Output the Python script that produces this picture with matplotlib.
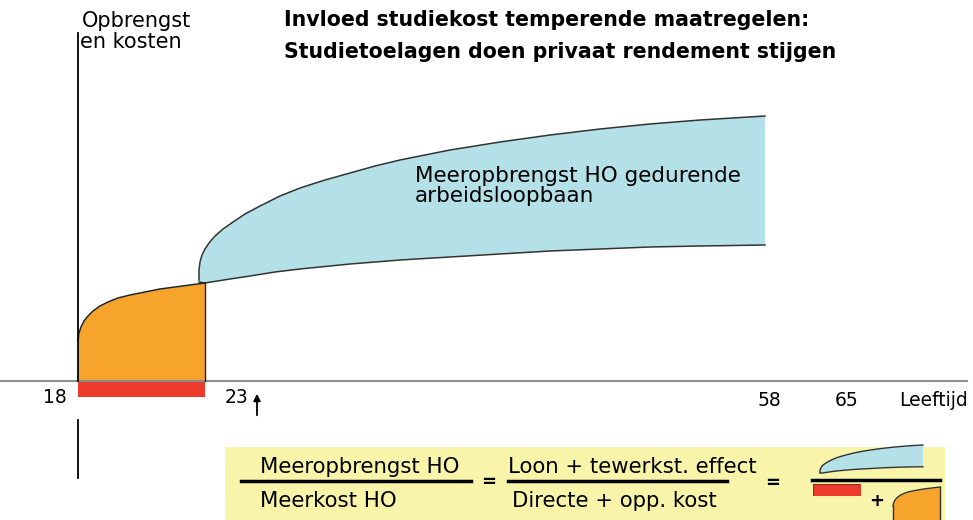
import numpy as np
import matplotlib
matplotlib.use('Agg')
import matplotlib.pyplot as plt
from matplotlib.patches import Rectangle

plt.rcParams['font.family'] = ['DejaVu Sans']

# schematic earnings profile, x = position along age axis, y = height above the age axis
study_x = [78, 79, 81, 84, 88, 93, 100, 108, 118, 130, 145, 160, 175, 190, 205]
study_y = [41, 48, 54, 60, 65, 70, 75, 79, 83, 86, 89, 92, 94, 96, 98]   # opportunity cost
direct_cost = -16                                                          # direct study cost

upper_x = [199, 199, 200, 202, 205, 209, 215, 223, 233, 245, 260, 280, 300, 325, 350, 375,
           400, 425, 450, 475, 500, 550, 600, 650, 700, 765]
upper_y = [101, 111, 119, 126, 132, 138, 145, 152, 159, 167, 175, 185, 193, 201, 208, 215,
           221, 226, 231, 235, 239, 246, 252, 257, 261, 265]
lower_x = [199, 205, 230, 250, 275, 300, 350, 400, 450, 500, 550, 600, 650, 700, 765]
lower_y = [99, 98, 102, 105, 109, 112, 117, 121, 124, 127, 130, 132, 134, 135, 136]

age_labels = ['18', '23', '58', '65', 'Leeftijd']

orange = '#f6a42b'
blue = '#b4e0e7'
red = '#ee3b2b'
yellow = '#f8f4aa'
edge = '#333333'

fig = plt.figure(figsize=(9.73, 5.2), dpi=100)
ax = fig.add_axes([0, 0, 1, 1])
ax.set_xlim(0, 973)
ax.set_ylim(-139, 381)
ax.axis('off')

def py(v):
    # convert a pixel row of the picture to the axis units
    return 381 - v

# blue area (extra earnings during working life)
ax.fill(np.r_[upper_x, lower_x[::-1]], np.r_[upper_y, lower_y[::-1]], color=blue, lw=0)
ax.plot(upper_x, upper_y, color=edge, lw=1.1)
ax.plot(lower_x, lower_y, color=edge, lw=1.1)

# orange area (forgone earnings during study)
ax.fill_between(study_x, 0, study_y, color=orange, lw=0)
ax.plot(study_x, study_y, color='#222222', lw=1.1)
ax.plot([study_x[-1], study_x[-1]], [0, study_y[-1]], color='#222222', lw=1)

# red bar (direct cost)
ax.bar(study_x[0], direct_cost, width=study_x[-1] - study_x[0], align='edge', color=red, lw=0)

# axes
ax.plot([0, 967], [0, 0], color='#8c8c8c', lw=1.5, zorder=1)
ax.plot([78, 78], [0, py(33)], color='black', lw=1.3)
ax.plot([78, 78], [py(420), py(478)], color='black', lw=1.3)

# age labels
fs_tick = 13.5
ax.text(55, py(403), age_labels[0], ha='center', va='baseline', fontsize=fs_tick)
ax.text(236, py(403), age_labels[1], ha='center', va='baseline', fontsize=fs_tick)
ax.text(769, py(406), age_labels[2], ha='center', va='baseline', fontsize=fs_tick)
ax.text(847, py(406), age_labels[3], ha='center', va='baseline', fontsize=fs_tick)
ax.text(968, py(406), age_labels[4], ha='right', va='baseline', fontsize=fs_tick)
ax.annotate('', xy=(257, py(391)), xytext=(257, py(418)),
            arrowprops=dict(arrowstyle='-|>', color='black', lw=1.3, mutation_scale=10))

# axis title and chart title
ax.text(82, py(27), 'Opbrengst', ha='left', va='baseline', fontsize=15)
ax.text(80, py(48), 'en kosten', ha='left', va='baseline', fontsize=15)
ax.text(284, py(26), 'Invloed studiekost temperende maatregelen:', ha='left', va='baseline',
        fontsize=14.8, fontweight='bold')
ax.text(284, py(58), 'Studietoelagen doen privaat rendement stijgen', ha='left', va='baseline',
        fontsize=14.8, fontweight='bold')

ax.text(415, py(182), 'Meeropbrengst HO gedurende', ha='left', va='baseline', fontsize=15.5)
ax.text(415, py(202), 'arbeidsloopbaan', ha='left', va='baseline', fontsize=15.5)

# formula box
fs_f = 15.3
ax.add_patch(Rectangle((225, py(520)), 720, 73, facecolor=yellow, edgecolor='none'))
ax.text(260, py(473), 'Meeropbrengst HO', ha='left', va='baseline', fontsize=fs_f)
ax.plot([241, 471], [py(481), py(481)], color='black', lw=2.5)
ax.text(260, py(507), 'Meerkost HO', ha='left', va='baseline', fontsize=fs_f)
ax.text(489, py(482), '=', ha='center', va='center', fontsize=13, fontweight='bold')
ax.text(508, py(473), 'Loon + tewerkst. effect', ha='left', va='baseline', fontsize=fs_f)
ax.plot([508, 727], [py(481), py(481)], color='black', lw=2.5)
ax.text(512, py(507), 'Directe + opp. kost', ha='left', va='baseline', fontsize=fs_f)
ax.text(773, py(483), '=', ha='center', va='center', fontsize=13, fontweight='bold')
ax.plot([812, 940], [py(480), py(480)], color='black', lw=2.5)
ax.text(877, py(501), '+', ha='center', va='center', fontsize=13, fontweight='bold')

# mini shapes inside the formula, drawn from the same data
mb = ax.inset_axes([820, py(473), 103, 28], transform=ax.transData)
mb.fill(np.r_[upper_x, lower_x[::-1]], np.r_[upper_y, lower_y[::-1]], color=blue, lw=0)
mb.plot(upper_x, upper_y, color=edge, lw=1, clip_on=False)
mb.plot(lower_x, lower_y, color=edge, lw=1, clip_on=False)
mb.set_xlim(199, 765)
mb.set_ylim(99, 265)
mb.axis('off')

mr = ax.inset_axes([813, py(496), 48, 12], transform=ax.transData)
mr.bar(study_x[0], direct_cost, width=study_x[-1] - study_x[0], align='edge', color=red,
       edgecolor='#8a2a20', lw=0.8)
mr.set_xlim(study_x[0], study_x[-1])
mr.set_ylim(direct_cost, 0)
mr.axis('off')

mo = ax.inset_axes([893, py(520), 47, 33], transform=ax.transData)
mo.fill_between(study_x, 0, study_y, color=orange, lw=0)
mo.plot(study_x, study_y, color=edge, lw=1, clip_on=False)
mo.plot([study_x[0], study_x[0]], [0, study_y[0]], color=edge, lw=1, clip_on=False)
mo.plot([study_x[-1], study_x[-1]], [0, study_y[-1]], color=edge, lw=1, clip_on=False)
mo.set_xlim(study_x[0], study_x[-1])
mo.set_ylim(0, study_y[-1])
mo.axis('off')

plt.savefig('out.png', dpi=100)
